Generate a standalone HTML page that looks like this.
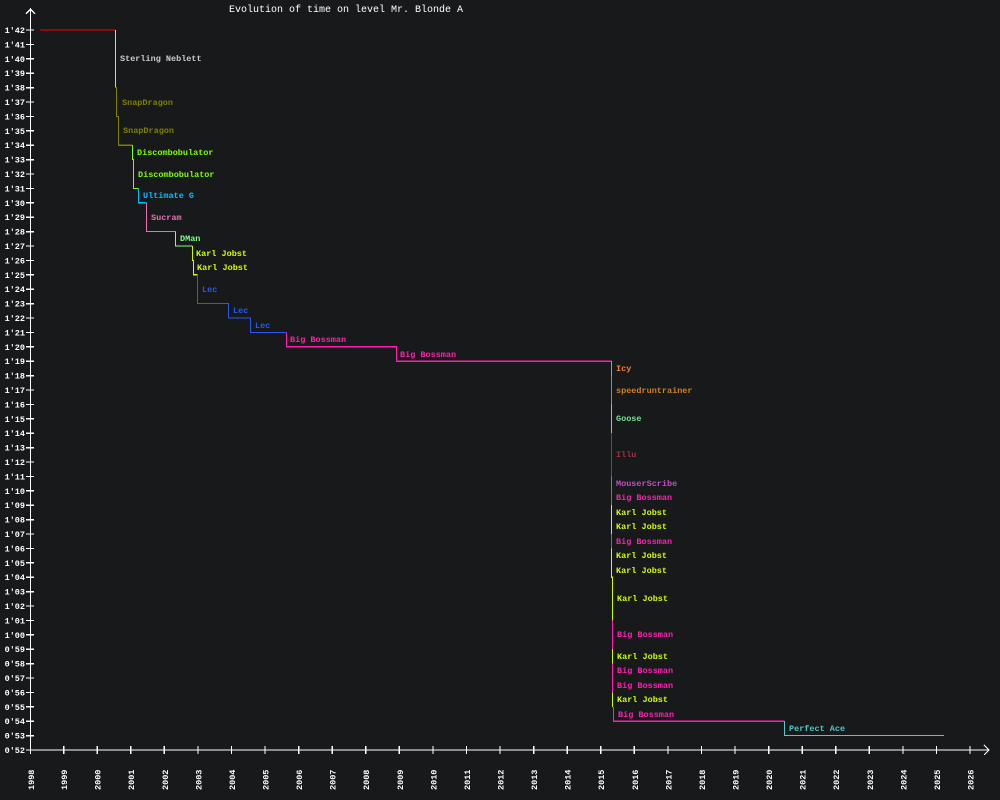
<!DOCTYPE html>
<html><head><meta charset="utf-8"><style>
html,body{margin:0;padding:0;background:#18191b;}
svg{display:block;font-family:"Liberation Mono","DejaVu Sans Mono",monospace;}
</style></head><body>
<svg width="1000" height="800" viewBox="0 0 1000 800" xmlns="http://www.w3.org/2000/svg">
<rect width="1000" height="800" fill="#18191b"/>
<text x="346" y="12" fill="#fff" font-size="10" text-anchor="middle">Evolution of time on level Mr. Blonde A</text>
<g stroke="#fff" stroke-width="1.3" fill="none" shape-rendering="crispEdges">
<path d="M30.5 750V8M26 14l4.5-5 4.5 5M30 750H988M984 745l5 5-5 5"/>
<path d="M26 750h8M26 735.6h8M26 721.2h8M26 706.8h8M26 692.4h8M26 678h8M26 663.6h8M26 649.2h8M26 634.8h8M26 620.4h8M26 606h8M26 591.6h8M26 577.2h8M26 562.8h8M26 548.4h8M26 534h8M26 519.6h8M26 505.2h8M26 490.8h8M26 476.4h8M26 462h8M26 447.6h8M26 433.2h8M26 418.8h8M26 404.4h8M26 390h8M26 375.6h8M26 361.2h8M26 346.8h8M26 332.4h8M26 318h8M26 303.6h8M26 289.2h8M26 274.8h8M26 260.4h8M26 246h8M26 231.6h8M26 217.2h8M26 202.8h8M26 188.4h8M26 174h8M26 159.6h8M26 145.2h8M26 130.8h8M26 116.4h8M26 102h8M26 87.6h8M26 73.2h8M26 58.8h8M26 44.4h8M26 30h8"/>
<path d="M30.5 746v8M63.6 746v8M97.1 746v8M130.7 746v8M164.3 746v8M197.9 746v8M231.4 746v8M265 746v8M298.6 746v8M332.1 746v8M365.7 746v8M399.3 746v8M432.9 746v8M466.4 746v8M500 746v8M533.6 746v8M567.1 746v8M600.7 746v8M634.3 746v8M667.9 746v8M701.4 746v8M735 746v8M768.6 746v8M802.1 746v8M835.7 746v8M869.3 746v8M902.9 746v8M936.4 746v8M970 746v8"/>
</g>
<g fill="#fff" font-size="8.5" font-weight="bold" text-anchor="end">
<text x="25" y="753">0'52</text><text x="25" y="738.6">0'53</text><text x="25" y="724.2">0'54</text><text x="25" y="709.8">0'55</text><text x="25" y="695.4">0'56</text><text x="25" y="681">0'57</text><text x="25" y="666.6">0'58</text><text x="25" y="652.2">0'59</text><text x="25" y="637.8">1'00</text><text x="25" y="623.4">1'01</text><text x="25" y="609">1'02</text><text x="25" y="594.6">1'03</text><text x="25" y="580.2">1'04</text><text x="25" y="565.8">1'05</text><text x="25" y="551.4">1'06</text><text x="25" y="537">1'07</text><text x="25" y="522.6">1'08</text><text x="25" y="508.2">1'09</text><text x="25" y="493.8">1'10</text><text x="25" y="479.4">1'11</text><text x="25" y="465">1'12</text><text x="25" y="450.6">1'13</text><text x="25" y="436.2">1'14</text><text x="25" y="421.8">1'15</text><text x="25" y="407.4">1'16</text><text x="25" y="393">1'17</text><text x="25" y="378.6">1'18</text><text x="25" y="364.2">1'19</text><text x="25" y="349.8">1'20</text><text x="25" y="335.4">1'21</text><text x="25" y="321">1'22</text><text x="25" y="306.6">1'23</text><text x="25" y="292.2">1'24</text><text x="25" y="277.8">1'25</text><text x="25" y="263.4">1'26</text><text x="25" y="249">1'27</text><text x="25" y="234.6">1'28</text><text x="25" y="220.2">1'29</text><text x="25" y="205.8">1'30</text><text x="25" y="191.4">1'31</text><text x="25" y="177">1'32</text><text x="25" y="162.6">1'33</text><text x="25" y="148.2">1'34</text><text x="25" y="133.8">1'35</text><text x="25" y="119.4">1'36</text><text x="25" y="105">1'37</text><text x="25" y="90.6">1'38</text><text x="25" y="76.2">1'39</text><text x="25" y="61.8">1'40</text><text x="25" y="47.4">1'41</text><text x="25" y="33">1'42</text>
</g>
<g fill="#fff" font-size="8.5" font-weight="bold">
<text transform="translate(34,790) rotate(-90)">1998</text><text transform="translate(67.1,790) rotate(-90)">1999</text><text transform="translate(100.6,790) rotate(-90)">2000</text><text transform="translate(134.2,790) rotate(-90)">2001</text><text transform="translate(167.8,790) rotate(-90)">2002</text><text transform="translate(201.4,790) rotate(-90)">2003</text><text transform="translate(234.9,790) rotate(-90)">2004</text><text transform="translate(268.5,790) rotate(-90)">2005</text><text transform="translate(302.1,790) rotate(-90)">2006</text><text transform="translate(335.6,790) rotate(-90)">2007</text><text transform="translate(369.2,790) rotate(-90)">2008</text><text transform="translate(402.8,790) rotate(-90)">2009</text><text transform="translate(436.4,790) rotate(-90)">2010</text><text transform="translate(469.9,790) rotate(-90)">2011</text><text transform="translate(503.5,790) rotate(-90)">2012</text><text transform="translate(537.1,790) rotate(-90)">2013</text><text transform="translate(570.6,790) rotate(-90)">2014</text><text transform="translate(604.2,790) rotate(-90)">2015</text><text transform="translate(637.8,790) rotate(-90)">2016</text><text transform="translate(671.4,790) rotate(-90)">2017</text><text transform="translate(704.9,790) rotate(-90)">2018</text><text transform="translate(738.5,790) rotate(-90)">2019</text><text transform="translate(772.1,790) rotate(-90)">2020</text><text transform="translate(805.6,790) rotate(-90)">2021</text><text transform="translate(839.2,790) rotate(-90)">2022</text><text transform="translate(872.8,790) rotate(-90)">2023</text><text transform="translate(906.4,790) rotate(-90)">2024</text><text transform="translate(939.9,790) rotate(-90)">2025</text><text transform="translate(973.5,790) rotate(-90)">2026</text>
</g>
<g fill="none" stroke-width="1.2" shape-rendering="crispEdges">
<path d="M40 30H115.5" stroke="#ff0000"/>
<path d="M115.5 30V87.6" stroke="#cccccc"/>
<path d="M115.5 87.6H116.5V116.4H118.5V145.2H132.5" stroke="#808000"/>
<path d="M132.5 145.2V159.6H133.5V188.4H138.5" stroke="#7fff00"/>
<path d="M138.5 188.4V202.8H146.5" stroke="#00bfff"/>
<path d="M146.5 202.8V231.6H175.5" stroke="#e870b8"/>
<path d="M175.5 231.6V246H192.5" stroke="#80ff80"/>
<path d="M192.5 246V260.4H193.5V274.8H197.5" stroke="#ccff00"/>
<path d="M197.5 274.8V303.6H228.5V318H250.5V332.4H286.5" stroke="#2a58f0"/>
<path d="M286.5 332.4V346.8H396.5V361.2H611.5" stroke="#ff20b0"/>
<path d="M611.5 361.2V375.6" stroke="#ff7f20"/>
<path d="M611.5 375.6V404.4" stroke="#d08020"/>
<path d="M611.5 404.4V433.2" stroke="#70e090"/>
<path d="M611.5 433.2V476.4" stroke="#a03040"/>
<path d="M611.5 476.4V490.8" stroke="#c050c0"/>
<path d="M611.5 490.8V505.2" stroke="#ff20b0"/>
<path d="M611.5 505.2V534" stroke="#ccff00"/>
<path d="M611.5 534V548.4" stroke="#ff20b0"/>
<path d="M611.5 548.4V577.2H612.5V620.4" stroke="#ccff00"/>
<path d="M612.5 620.4V649.2" stroke="#ff20b0"/>
<path d="M612.5 649.2V663.6" stroke="#ccff00"/>
<path d="M612.5 663.6V692.4" stroke="#ff20b0"/>
<path d="M612.5 692.4V706.8" stroke="#ccff00"/>
<path d="M613.5 706.8V721.2H784.5" stroke="#ff20b0"/>
<path d="M784.5 721.2V735.6H944" stroke="#50c8c8"/>
</g>
<g font-size="8.5" font-weight="bold">
<text x="120" y="61" fill="#cccccc">Sterling Neblett</text>
<text x="122" y="105" fill="#808000">SnapDragon</text>
<text x="123" y="133" fill="#808000">SnapDragon</text>
<text x="137" y="155" fill="#7fff00">Discombobulator</text>
<text x="138" y="177" fill="#7fff00">Discombobulator</text>
<text x="143" y="198" fill="#00bfff">Ultimate G</text>
<text x="151" y="220" fill="#e870b8">Sucram</text>
<text x="180" y="241" fill="#80ff80">DMan</text>
<text x="196" y="256" fill="#ccff00">Karl Jobst</text>
<text x="197" y="270" fill="#ccff00">Karl Jobst</text>
<text x="202" y="292" fill="#2a58f0">Lec</text>
<text x="233" y="313" fill="#2a58f0">Lec</text>
<text x="255" y="328" fill="#2a58f0">Lec</text>
<text x="290" y="342" fill="#ff20b0">Big Bossman</text>
<text x="400" y="357" fill="#ff20b0">Big Bossman</text>
<text x="616" y="371" fill="#ff7f20">Icy</text>
<text x="616" y="393" fill="#d08020">speedruntrainer</text>
<text x="616" y="421" fill="#70e090">Goose</text>
<text x="616" y="457" fill="#a03040">Illu</text>
<text x="616" y="486" fill="#c050c0">MouserScribe</text>
<text x="616" y="500" fill="#ff20b0">Big Bossman</text>
<text x="616" y="515" fill="#ccff00">Karl Jobst</text>
<text x="616" y="529" fill="#ccff00">Karl Jobst</text>
<text x="616" y="544" fill="#ff20b0">Big Bossman</text>
<text x="616" y="558" fill="#ccff00">Karl Jobst</text>
<text x="616" y="573" fill="#ccff00">Karl Jobst</text>
<text x="617" y="601" fill="#ccff00">Karl Jobst</text>
<text x="617" y="637" fill="#ff20b0">Big Bossman</text>
<text x="617" y="659" fill="#ccff00">Karl Jobst</text>
<text x="617" y="673" fill="#ff20b0">Big Bossman</text>
<text x="617" y="688" fill="#ff20b0">Big Bossman</text>
<text x="617" y="702" fill="#ccff00">Karl Jobst</text>
<text x="618" y="717" fill="#ff20b0">Big Bossman</text>
<text x="789" y="731" fill="#50c8c8">Perfect Ace</text>
</g>
</svg>
</body></html>
